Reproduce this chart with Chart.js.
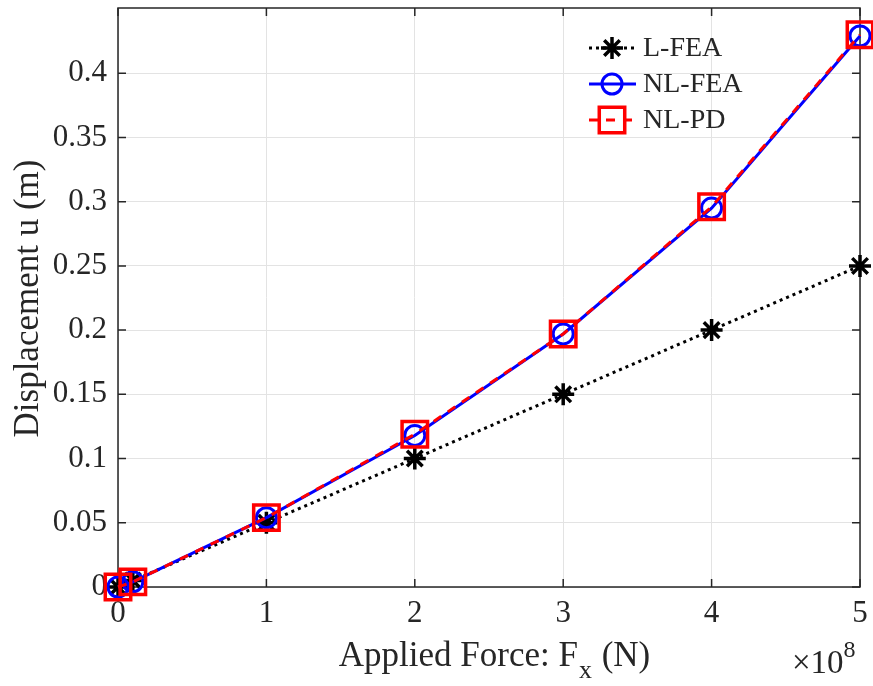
<!DOCTYPE html>
<html>
<head>
<meta charset="utf-8">
<script src="https://cdn.jsdelivr.net/npm/chart.js@4.4.1/dist/chart.umd.min.js"></script>
<style>
  html, body { margin: 0; padding: 0; background: #fff; }
  #wrap { width: 873px; height: 686px; }
</style>
</head>
<body>
<div id="wrap"><canvas id="dispChart" width="873" height="686"></canvas></div>
<script>
// ===== DATA =====
const forceN = [0, 1e7, 1e8, 2e8, 3e8, 4e8, 5e8];
const dispLinearFEA = [0, 0.005, 0.05, 0.1, 0.15, 0.2, 0.25];
const dispNonlinFEA = [0, 0.004, 0.054, 0.118, 0.197, 0.295, 0.429];
const dispNonlinPD = [0, 0.004, 0.054, 0.119, 0.197, 0.296, 0.43];
const seriesNames = ['L-FEA', 'NL-FEA', 'NL-PD'];
const xTicks = [0, 1e8, 2e8, 3e8, 4e8, 5e8];
const xTickLabels = ['0', '1', '2', '3', '4', '5'];
const yTicks = [0, 0.05, 0.1, 0.15, 0.2, 0.25, 0.3, 0.35, 0.4];
const yTickLabels = ['0', '0.05', '0.1', '0.15', '0.2', '0.25', '0.3', '0.35', '0.4'];

const FONT = '"Liberation Serif", "Times New Roman", serif';
const TEXT = '#262626';

const toPoints = (ys) => forceN.map((x, i) => ({ x, y: ys[i] }));

// scales keep a fixed size and no extra label padding
const fixSize = (prop, size) => (s) => {
    s[prop] = size;
    s.paddingLeft = s.paddingRight = s.paddingTop = s.paddingBottom = 0;
};

// ===== FRAME + INWARD TICKS =====
const framePlugin = {
    id: 'frame',
    beforeDatasetsDraw(chart) {
        const { ctx, chartArea: a, scales } = chart;
        ctx.save();
        ctx.strokeStyle = '#262626';
        ctx.lineWidth = 1.5;
        const len = 8;
        ctx.beginPath();
        xTicks.forEach(v => {
            const px = scales.x.getPixelForValue(v);
            ctx.moveTo(px, a.bottom); ctx.lineTo(px, a.bottom - len);
            ctx.moveTo(px, a.top); ctx.lineTo(px, a.top + len);
        });
        yTicks.forEach(v => {
            const py = scales.y.getPixelForValue(v);
            ctx.moveTo(a.left, py); ctx.lineTo(a.left + len, py);
            ctx.moveTo(a.right, py); ctx.lineTo(a.right - len, py);
        });
        ctx.stroke();
        ctx.strokeRect(a.left, a.top, a.right - a.left, a.bottom - a.top);
        ctx.restore();
    }
};

// ===== TITLES + LEGEND =====
const annotatePlugin = {
    id: 'annotate',
    afterDraw(chart) {
        const { ctx, chartArea: a } = chart;
        ctx.save();
        ctx.fillStyle = TEXT;
        ctx.textBaseline = 'alphabetic';

        // x title with subscript
        const big = `35px ${FONT}`, sub = `26px ${FONT}`;
        ctx.font = big;
        const partA = 'Applied Force: F';
        const partB = ' (N)';
        const wA = ctx.measureText(partA).width;
        const wB = ctx.measureText(partB).width;
        ctx.font = sub;
        const wSub = ctx.measureText('x').width;
        const total = wA + wSub + 2 + wB;
        const x0 = 334 + (321 - total) / 2;
        const base = 666;
        ctx.textAlign = 'left';
        ctx.font = big;
        ctx.fillText(partA, x0, base);
        ctx.font = sub;
        ctx.fillText('x', x0 + wA + 1, base + 12);
        ctx.font = big;
        ctx.fillText(partB, x0 + wA + wSub + 2, base);

        // exponent note
        ctx.font = `33px ${FONT}`;
        ctx.fillText('\u00d710', 792, 673);
        const wE = ctx.measureText('\u00d710').width;
        ctx.font = `24px ${FONT}`;
        ctx.fillText('8', 792 + wE, 657);

        // y title
        ctx.font = big;
        ctx.translate(38, (a.top + a.bottom) / 2 + 1);
        ctx.rotate(-Math.PI / 2);
        ctx.textAlign = 'center';
        ctx.fillText('Displacement u (m)', 0, 0);
        ctx.restore();

        // legend
        ctx.save();
        const rows = [48, 84, 120];
        chart.data.datasets.forEach((ds, i) => {
            const y = rows[i];
            ctx.strokeStyle = ds.borderColor;
            ctx.lineWidth = ds.borderWidth;
            ctx.setLineDash(ds.borderDash || []);
            ctx.beginPath();
            ctx.moveTo(589, y); ctx.lineTo(636, y);
            ctx.stroke();
            ctx.setLineDash([]);
            ctx.lineWidth = ds.pointBorderWidth;
            ctx.strokeStyle = ds.pointBorderColor;
            ctx.fillStyle = 'rgba(0,0,0,0)';
            Chart.helpers.drawPoint(ctx, {
                pointStyle: ds.pointStyle,
                radius: ds.legendRadius,
                rotation: 0,
                borderWidth: ds.pointBorderWidth
            }, 612, y);
            ctx.fillStyle = TEXT;
            ctx.font = `28px ${FONT}`;
            ctx.textAlign = 'left';
            ctx.textBaseline = 'middle';
            ctx.fillText(seriesNames[i], 643, y + 1);
        });
        ctx.restore();
    }
};

// ===== CHART =====
new Chart(document.getElementById('dispChart'), {
    type: 'scatter',
    data: {
        datasets: [
            {
                label: seriesNames[0],
                data: toPoints(dispLinearFEA),
                showLine: true,
                borderColor: '#000000',
                borderWidth: 3,
                borderDash: [3, 4],
                pointStyle: 'star',
                pointRadius: 11,
                legendRadius: 11,
                pointBorderWidth: 3.5,
                pointBorderColor: '#000000',
                pointBackgroundColor: 'rgba(0,0,0,0)',
                clip: false,
                order: 3
            },
            {
                label: seriesNames[1],
                data: toPoints(dispNonlinFEA),
                showLine: true,
                borderColor: '#0000ff',
                borderWidth: 3,
                pointStyle: 'circle',
                pointRadius: 10,
                legendRadius: 10,
                pointBorderWidth: 3,
                pointBorderColor: '#0000ff',
                pointBackgroundColor: 'rgba(0,0,0,0)',
                clip: false,
                order: 2
            },
            {
                label: seriesNames[2],
                data: toPoints(dispNonlinPD),
                showLine: true,
                borderColor: '#ff0000',
                borderWidth: 3,
                borderDash: [9, 8],
                pointStyle: 'rect',
                pointRadius: 18,
                legendRadius: 18,
                pointBorderWidth: 3.5,
                pointBorderColor: '#ff0000',
                pointBackgroundColor: 'rgba(0,0,0,0)',
                clip: false,
                order: 1
            }
        ]
    },
    options: {
        responsive: false,
        animation: false,
        layout: { autoPadding: false, padding: { left: 0, top: 8, right: 13, bottom: 0 } },
        plugins: {
            legend: { display: false },
            tooltip: { enabled: false }
        },
        scales: {
            x: {
                type: 'linear',
                min: 0,
                max: 5e8,
                afterBuildTicks: (s) => { s.ticks = xTicks.map(v => ({ value: v })); },
                afterFit: fixSize('height', 99),
                ticks: {
                    color: TEXT,
                    font: { family: FONT, size: 31 },
                    padding: 8,
                    maxRotation: 0,
                    callback: (v) => xTickLabels[xTicks.indexOf(v)] ?? ''
                },
                grid: { color: '#e3e3e3', lineWidth: 1, drawTicks: false },
                border: { display: false }
            },
            y: {
                type: 'linear',
                min: 0,
                max: 0.4508,
                afterBuildTicks: (s) => { s.ticks = yTicks.map(v => ({ value: v })); },
                afterFit: fixSize('width', 118),
                ticks: {
                    color: TEXT,
                    font: { family: FONT, size: 31 },
                    padding: 11,
                    callback: (v) => yTickLabels[yTicks.indexOf(v)] ?? ''
                },
                grid: { color: '#e3e3e3', lineWidth: 1, drawTicks: false },
                border: { display: false }
            }
        }
    },
    plugins: [framePlugin, annotatePlugin]
});
</script>
</body>
</html>
